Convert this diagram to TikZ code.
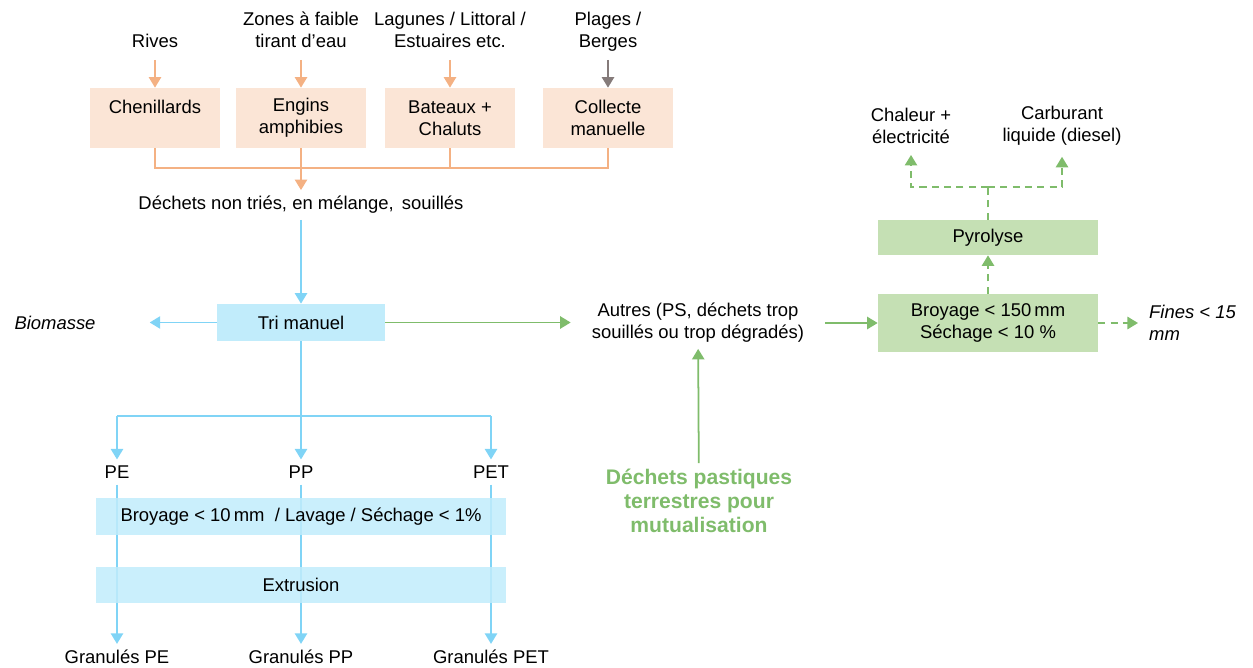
\documentclass[tikz,border=0pt]{standalone}
\usepackage{fontspec}
\setmainfont{Liberation Sans}
\usetikzlibrary{arrows.meta,positioning,calc}
\definecolor{peach}{HTML}{FBE5D6}
\definecolor{apricot}{HTML}{F4B183}
\definecolor{taupe}{HTML}{857B7A}
\definecolor{skyfill}{HTML}{C1ECFB}
\definecolor{sky}{HTML}{80D4F6}
\definecolor{leaf}{HTML}{C5E0B4}
\definecolor{moss}{HTML}{7FBC6B}

\begin{document}
\begin{tikzpicture}[x=0.02cm,y=-0.02cm,font=\fontsize{10.5}{12.5}\selectfont,
            >={Triangle[width=7pt,length=6pt]},
            src/.style={align=center,anchor=south,inner sep=0pt,text depth=0pt},
            lbl/.style={align=center},
            obox/.style={fill=peach,minimum width=2.6cm,minimum height=1.2cm,inner sep=0pt,align=center},
            bbox/.style={fill=skyfill,minimum height=0.74cm,inner sep=0pt},
            gbox/.style={fill=leaf,minimum width=4.4cm,inner sep=0pt,align=center},
            wire/.style={line width=1pt},
            gdash/.style={wire,moss,dash pattern=on 4pt off 3pt}]
          \useasboundingbox (0,0) rectangle (1253,668);
          \foreach \srcnm/\boxnm/\x/\top/\lab/\col in {rives/chen/155/{Rives}/{Chenillards\\\mbox{}}/apricot,
              zones/engins/301/{Zones à faible\\tirant d’eau}/{Engins\\amphibies}/apricot,
              lagunes/bateaux/450/{Lagunes / Littoral /\\Estuaires etc.}/{Bateaux +\\Chaluts}/apricot,
              plages/collecte/608/{Plages /\\Berges}/{Collecte\\manuelle}/taupe}{
            \node[src] (\srcnm) at (\x,48) {\top};
            \node[obox] (\boxnm) at (\x,118) {\lab};
            \draw[wire,\col,->,shorten <=0.24cm] (\srcnm) -- (\boxnm);}
          \node[lbl] (dechets) at (301,205) {Déchets non triés, en mélange,\ \,souillés};
          \draw[wire,apricot] (chen.south) |- ($(collecte.south)+(0,20)$) -- (collecte.south);
          \draw[wire,apricot] (bateaux.south) -- ++(0,20);
          \draw[wire,apricot,->] (engins.south) -- (dechets);
          \node[bbox,minimum width=3.36cm] (tri) at (301,322.5) {Tri manuel};
          \draw[wire,sky,->] (dechets) -- (tri);
          \node[lbl] (biomasse) at (55,323) {\textit{Biomasse}};
          \draw[wire,sky,->,shorten >=0.96cm] (tri.west) -- (tri.west -| biomasse.east);
          \node[lbl] (autres) at (698,323) {Autres (PS, déchets trop\\souillés ou trop dégradés)};
          \draw[wire,moss,->,shorten >=0.3cm] (tri.east) -- (tri.east -| autres.west);
          \node[lbl,font=\fontsize{12}{13.6}\selectfont\bfseries,text=moss] (terr) at (699,501) {Déchets pastiques\\terrestres pour\\mutualisation};
          \draw[wire,moss,->] (terr) -- (autres);
          \node[gbox,minimum height=1.16cm] (broyage) at (988,323) {Broyage < 150\,mm\\Séchage < 10 \%};
          \draw[wire,moss,->,shorten <=0.3cm] (broyage.west -| autres.east) -- (broyage.west);
          \node[lbl,anchor=west,align=left,font=\fontsize{10.5}{12.5}\selectfont\itshape] (fines) at (1143,323) {Fines < 15\\mm};
          \draw[gdash,->,shorten >=0.1cm] (broyage.east) -- (broyage.east -| fines.west);
          \node[gbox,minimum height=0.7cm] (pyro) at (988,237.5) {Pyrolyse};
          \draw[gdash,->] (broyage) -- (pyro);
          \node[lbl] (chaleur) at (911,126) {Chaleur +\\électricité};
          \node[lbl] (carbu) at (1062,126) {Carburant\\liquide (diesel)};
          \draw[gdash] (pyro.north) -- ++(0,-33) coordinate (split);
          \draw[gdash,->,shorten >=0.1cm] (split) -| (chaleur);
          \draw[gdash,->,shorten >=0.1cm] (split) -| (carbu);
          \draw[wire,sky] (tri.south) -- ++(0,75) coordinate (fork);
          \foreach \p/\x in {pe/117,pp/301,pet/491}{
            \node[lbl] (\p) at (\x,472) {\MakeUppercase{\p}};
            \node[lbl] (g\p) at (\x,657) {Granulés \MakeUppercase{\p}};
            \draw[wire,sky,->] (fork -| \p) -- (\p);
            \draw[wire,sky,->] (\p) -- (g\p);}
          \draw[wire,sky] (fork -| pe) -- (fork -| pet);
          \node[bbox,minimum width=8.2cm,fill opacity=0.85,text opacity=1] (lavage) at (301,516.5) {Broyage < 10\,mm~ / Lavage / Séchage < 1\%};
          \node[bbox,minimum width=8.2cm,minimum height=0.72cm,fill opacity=0.85,text opacity=1] (extru) at (301,585) {Extrusion};
        \end{tikzpicture}
\end{document}
